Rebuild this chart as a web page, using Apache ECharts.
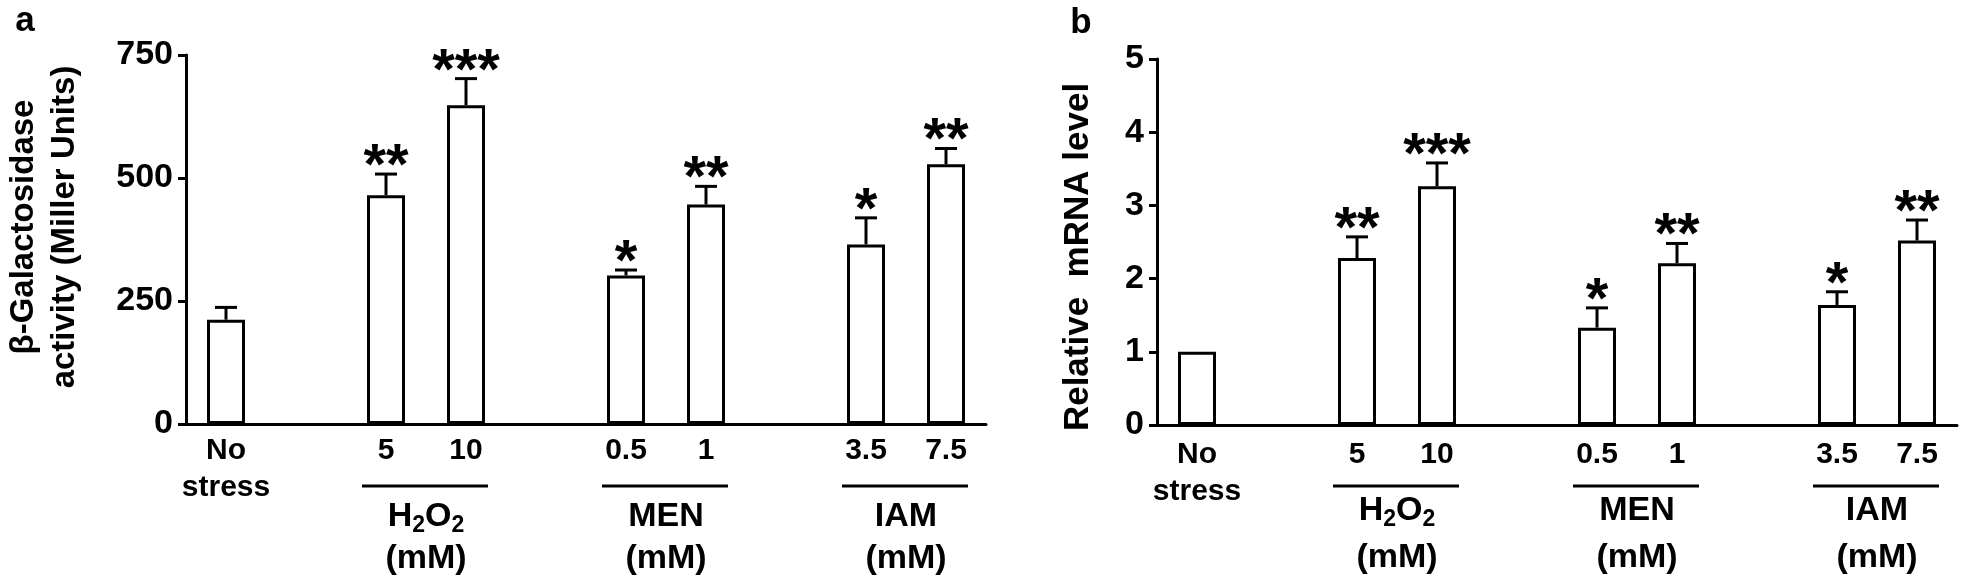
<!DOCTYPE html>
<html><head><meta charset="utf-8">
<script src="https://cdn.jsdelivr.net/npm/echarts@6/dist/echarts.min.js"></script>
<style>html,body{margin:0;padding:0;background:#fff}#c{width:1961px;height:578px}</style>
</head><body><div id="c"></div>
<script>
// ---- data ----
const categories = ['No stress', 'gap1', '5', '10', 'gap2', '0.5', '1', 'gap3', '3.5', '7.5'];
const tickLabels = ['No\nstress', '', '5', '10', '', '0.5', '1', '', '3.5', '7.5'];
const galMean = [212, null, 465, 648, null, 302, 446, null, 365, 528];
const galErr  = [25,  null, 43,  54,  null, 11,  37,  null, 54,  32];
const mrnaMean = [1.0, null, 2.28, 3.26, null, 1.33, 2.21, null, 1.64, 2.52];
const mrnaErr  = [0,   null, 0.29, 0.32, null, 0.27, 0.27, null, 0.18, 0.28];
const sigLabels = ['', '', '**', '***', '', '*', '**', '', '*', '**'];
const groupNames = ['H2O2', 'MEN', 'IAM'];
const groupUnit = '(mM)';
const groupSpans = [[2, 3], [5, 6], [8, 9]];
const yTicksA = [0, 250, 500, 750];
const yTicksB = [0, 1, 2, 3, 4, 5];
const titleA = 'β-Galactosidase\nactivity (Miller Units)';
const titleB = 'Relative  mRNA level';
const panelLetters = ['a', 'b'];

const FONT = '"Liberation Sans", Arial, Helvetica, sans-serif';
const chart = echarts.init(document.getElementById('c'), null, {renderer: 'canvas'});

function xAxisCfg(g, margin) {
  return {
    type: 'category', gridIndex: g, data: categories, boundaryGap: true,
    axisLine: {lineStyle: {color: '#000', width: 3}},
    axisTick: {alignWithLabel: true, interval: 0, length: 9, lineStyle: {color: '#000', width: 3}},
    axisLabel: {interval: 0, margin: margin, color: '#000', fontFamily: FONT, fontWeight: 'bold',
      fontSize: 30, lineHeight: 37, formatter: (v, i) => tickLabels[i]},
    splitLine: {show: false}
  };
}
function yAxisCfg(g, ticks) {
  return {
    type: 'value', gridIndex: g, min: ticks[0], max: ticks[ticks.length - 1],
    interval: ticks[1] - ticks[0],
    axisLine: {show: true, lineStyle: {color: '#000', width: 3}},
    axisTick: {show: true, length: 8, lineStyle: {color: '#000', width: 3}},
    axisLabel: {margin: 13, color: '#000', fontFamily: FONT, fontWeight: 'bold', fontSize: 34},
    splitLine: {show: false}
  };
}
function barSeries(g, means) {
  return {
    type: 'bar', xAxisIndex: g, yAxisIndex: g, barWidth: 38, silent: true,
    data: means.map(v => v == null ? '-' : v),
    itemStyle: {color: '#fff', borderColor: '#000', borderWidth: 3}
  };
}
function errSeries(g, means, errs) {
  const data = [];
  means.forEach((m, i) => { if (m != null) data.push([i, m, errs[i]]); });
  return {
    type: 'custom', xAxisIndex: g, yAxisIndex: g, silent: true, clip: false, z: 5,
    encode: {x: 0, y: 1},
    data: data,
    renderItem: function (params, api) {
      const i = api.value(0), m = api.value(1), e = api.value(2);
      const p0 = api.coord([i, m]);
      const p1 = api.coord([i, m + e]);
      const children = [];
      const ls = {stroke: '#000', lineWidth: 3};
      if (e > 0) {
        children.push({type: 'line', shape: {x1: p0[0], y1: p0[1], x2: p1[0], y2: p1[1]}, style: ls});
        children.push({type: 'line', shape: {x1: p1[0] - 11, y1: p1[1], x2: p1[0] + 11, y2: p1[1]}, style: ls});
      }
      const s = sigLabels[i];
      if (s) {
        children.push({type: 'text', x: p1[0], y: p1[1] - 6, style: {
          text: s, fill: '#000', fontFamily: FONT, fontWeight: 'bold', fontSize: 58,
          align: 'center', verticalAlign: 'middle'}});
      }
      return {type: 'group', children: children};
    }
  };
}

chart.setOption({
  animation: false,
  backgroundColor: '#fff',
  grid: [
    {left: 186, width: 800, top: 55, height: 369},
    {left: 1157, width: 800, top: 59, height: 366}
  ],
  xAxis: [xAxisCfg(0, 8), xAxisCfg(1, 11)],
  yAxis: [yAxisCfg(0, yTicksA), yAxisCfg(1, yTicksB)],
  series: [
    barSeries(0, galMean), errSeries(0, galMean, galErr),
    barSeries(1, mrnaMean), errSeries(1, mrnaMean, mrnaErr)
  ]
});

// ---- group annotations using the axes' own scales ----
function richName(name) {
  // digits become subscripts (chemical formula)
  return name.replace(/([A-Za-z]+)|(\d+)/g, (m, a, d) => a ? '{n|' + a + '}' : '{s|' + d + '}');
}
const nameY = [517, 511];
const unitY = [559, 558];
const graphics = [];
[0, 1].forEach(g => {
  groupSpans.forEach((span, k) => {
    const pa = chart.convertToPixel({gridIndex: g}, [categories[span[0]], 0]);
    const pb = chart.convertToPixel({gridIndex: g}, [categories[span[1]], 0]);
    const cx = (pa[0] + pb[0]) / 2;
    graphics.push({type: 'line', shape: {x1: pa[0] - 24, y1: 486, x2: pb[0] + 22, y2: 486},
      style: {stroke: '#000', lineWidth: 3}});
    graphics.push({type: 'text', x: cx, y: nameY[g], style: {
      text: richName(groupNames[k]), align: 'center', verticalAlign: 'middle',
      rich: {
        n: {fontFamily: FONT, fontWeight: 'bold', fontSize: 34, lineHeight: 40, fill: '#000', verticalAlign: 'middle'},
        s: {fontFamily: FONT, fontWeight: 'bold', fontSize: 23, lineHeight: 24, fill: '#000', verticalAlign: 'bottom'}
      }}});
    graphics.push({type: 'text', x: cx, y: unitY[g], style: {
      text: groupUnit, align: 'center', verticalAlign: 'middle', fill: '#000',
      fontFamily: FONT, fontWeight: 'bold', fontSize: 34}});
  });
});
graphics.push({type: 'text', x: 44, y: 227, rotation: Math.PI / 2, style: {
  text: titleA, align: 'center', verticalAlign: 'middle', fill: '#000',
  fontFamily: FONT, fontWeight: 'bold', fontSize: 33, lineHeight: 41}});
graphics.push({type: 'text', x: 1078, y: 257, rotation: Math.PI / 2, style: {
  text: titleB, align: 'center', verticalAlign: 'middle', fill: '#000',
  fontFamily: FONT, fontWeight: 'bold', fontSize: 35}});
graphics.push({type: 'text', x: 25, y: 21, style: {
  text: panelLetters[0], align: 'center', verticalAlign: 'middle', fill: '#000',
  fontFamily: FONT, fontWeight: 'bold', fontSize: 35}});
graphics.push({type: 'text', x: 1081, y: 23, style: {
  text: panelLetters[1], align: 'center', verticalAlign: 'middle', fill: '#000',
  fontFamily: FONT, fontWeight: 'bold', fontSize: 35}});
chart.setOption({graphic: {elements: graphics}});
</script>
</body></html>
